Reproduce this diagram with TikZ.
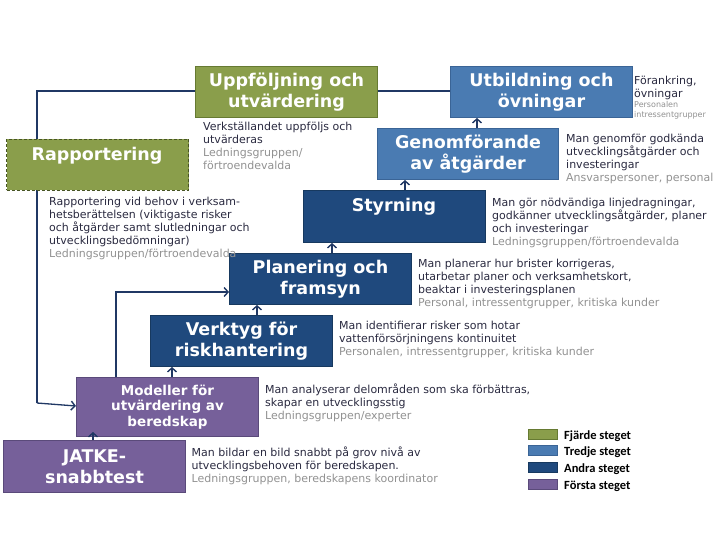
\documentclass[tikz,border=0pt]{standalone}
\usepackage{fontspec}
\setmainfont{DejaVu Sans}
\newfontfamily\legfont{Carlito}
\usetikzlibrary{arrows.meta}
\definecolor{txt}{HTML}{2A2A40}
\definecolor{gr}{HTML}{929292}
\definecolor{grnF}{HTML}{8A9E4B}
\definecolor{grnD}{HTML}{667A32}
\definecolor{bluF}{HTML}{4A7BB2}
\definecolor{bluD}{HTML}{3A6496}
\definecolor{dkF}{HTML}{1F497D}
\definecolor{dkD}{HTML}{17395F}
\definecolor{puF}{HTML}{76609A}
\definecolor{puD}{HTML}{5A4A7A}
\definecolor{ln}{HTML}{203864}
\begin{document}
\begin{tikzpicture}[x=1pt,y=-1pt,
  box/.style={draw, line width=1pt, inner sep=0pt, anchor=north west, text=white, align=center,
    font=\bfseries\fontsize{17.5}{21}\selectfont},
  ttl/.style={text=white, inner sep=0pt, align=center, font=\bfseries\fontsize{17.5}{21}\selectfont},
  desc/.style={anchor=north west, inner sep=0pt, align=left, text=txt, font=\fontsize{11}{13}\selectfont},
  arr/.style={draw=ln, line width=1.3pt, -{Straight Barb[length=4pt,width=9pt,line width=1.4pt]}},
  conn/.style={draw=ln, line width=1.3pt},
  sw/.style={draw, line width=0.8pt, anchor=north west, minimum width=29pt, minimum height=10pt, inner sep=0pt},
  leg/.style={anchor=west, inner sep=0pt, text=black, font=\legfont\bfseries\fontsize{12.5}{14}\selectfont}
]
\useasboundingbox (0,0) rectangle (720,540);
\fill[white] (0,0) rectangle (720,540);

% connectors behind boxes
\coordinate (px) at (116,0);
\draw[conn] (195,91) -- (450,91);
\draw[conn] (195,91) -- (37,91) -- (37,403);

% boxes
\node[box, fill=grnF, draw=grnD, minimum width=182pt, minimum height=51pt] (upp) at (195,66) {Uppföljning och\\utvärdering};
\node[box, fill=bluF, draw=bluD, minimum width=182pt, minimum height=51pt] (utb) at (450,66) {Utbildning och\\övningar};
\node[box, fill=grnF, draw=grnD!70!black, dashed, dash pattern=on 3pt off 2pt, minimum width=182pt, minimum height=51pt] (rap) at (6,139) {};
\node[ttl] at (97,156) {Rapportering};
\node[box, fill=bluF, draw=bluD, minimum width=181pt, minimum height=51pt] (gen) at (377,128) {Genomförande\\av åtgärder};
\node[box, fill=dkF, draw=dkD, minimum width=182pt, minimum height=52pt] (sty) at (303,190) {};
\node[ttl] at (394,207) {Styrning};
\node[box, fill=dkF, draw=dkD, minimum width=182pt, minimum height=51pt] (pla) at (229,253) {Planering och\\framsyn};
\node[box, fill=dkF, draw=dkD, minimum width=182pt, minimum height=51pt] (ver) at (150,315) {Verktyg för\\riskhantering};
\node[box, fill=puF, draw=puD, minimum width=182pt, minimum height=59pt, font=\bfseries\fontsize{13.5}{15.5}\selectfont] (mod) at (76,377) {Modeller för\\utvärdering av\\beredskap};
\node[box, fill=puF, draw=puD, minimum width=182pt, minimum height=52pt] (jat) at (3,440) {JATKE-\\snabbtest};

% arrows
\draw[arr] (37,403) -- (mod.west |- 0,406);
\draw[arr] (px |- mod.north) -- (px |- 0,292) -- (pla.west |- 0,292);
\coordinate (a1) at (93,0);
\coordinate (a2) at (172,0);
\coordinate (a3) at (257,0);
\coordinate (a4) at (332,0);
\coordinate (a5) at (405,0);
\coordinate (a6) at (477,0);
\draw[arr] (a1 |- jat.north) -- ([yshift=5pt]a1 |- mod.south);
\draw[arr] (a2 |- mod.north) -- (a2 |- ver.south);
\draw[arr] (a3 |- ver.north) -- (a3 |- pla.south);
\draw[arr] (a4 |- pla.north) -- (a4 |- sty.south);
\draw[arr] (a5 |- sty.north) -- (a5 |- gen.south);
\draw[arr] (a6 |- gen.north) -- (a6 |- utb.south);

% descriptions
\node[desc] (dupp) at (203,122) {Verkställandet uppföljs och\\utvärderas\\\textcolor{gr}{Ledningsgruppen/}\\\textcolor{gr}{förtroendevalda}};
\node[desc] (dutb) at (634,75.5) {Förankring,\\övningar};
\node[desc, font=\fontsize{8}{10}\selectfont, text=gr] (dutb2) at (634,101) {Personalen\\intressentgrupper};
\node[desc] (drap) at (49,197) {Rapportering vid behov i verksam-\\hetsberättelsen (viktigaste risker\\och åtgärder samt slutledningar och\\utvecklingsbedömningar)\\\textcolor{gr}{Ledningsgruppen/förtroendevalda}};
\node[desc] (dgen) at (566,133.5) {Man genomför godkända\\utvecklingsåtgärder och\\investeringar\\\textcolor{gr}{Ansvarspersoner, personal}};
\node[desc] (dsty) at (492,197.5) {Man gör nödvändiga linjedragningar,\\godkänner utvecklingsåtgärder, planer\\och investeringar\\\textcolor{gr}{Ledningsgruppen/förtroendevalda}};
\node[desc] (dpla) at (418,258.5) {Man planerar hur brister korrigeras,\\utarbetar planer och verksamhetskort,\\beaktar i investeringsplanen\\\textcolor{gr}{Personal, intressentgrupper, kritiska kunder}};
\node[desc] (dver) at (339,320.5) {Man identifierar risker som hotar\\vattenförsörjningens kontinuitet\\\textcolor{gr}{Personalen, intressentgrupper, kritiska kunder}};
\node[desc] (dmod) at (265,383.5) {Man analyserar delområden som ska förbättras,\\skapar en utvecklingsstig\\\textcolor{gr}{Ledningsgruppen/experter}};
\node[desc] (djat) at (191.5,446.5) {Man bildar en bild snabbt på grov nivå av\\utvecklingsbehoven för beredskapen.\\\textcolor{gr}{Ledningsgruppen, beredskapens koordinator}};

% legend
\node[sw, fill=grnF, draw=grnD] (s1) at (528,429) {};
\node[sw, fill=bluF, draw=bluD] (s2) at (528,445) {};
\node[sw, fill=dkF, draw=dkD] (s3) at (528,462) {};
\node[sw, fill=puF, draw=puD] (s4) at (528,479) {};
\node[leg] (l1) at (564,436) {Fjärde steget};
\node[leg] (l2) at (564,452.5) {Tredje steget};
\node[leg] (l3) at (564,469.5) {Andra steget};
\node[leg] (l4) at (564,486) {Första steget};
\end{tikzpicture}
\end{document}
